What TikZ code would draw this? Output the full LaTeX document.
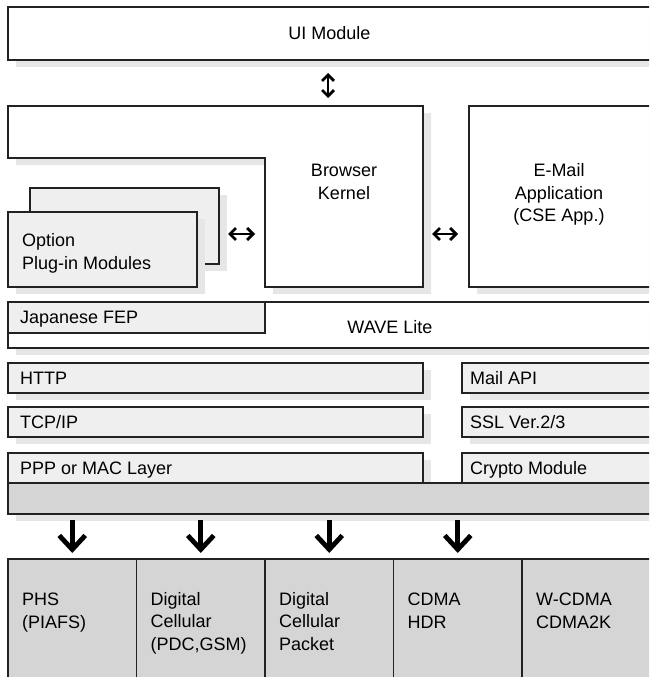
\documentclass[tikz,border=0pt]{standalone}
\usepackage{fontspec}
\setmainfont{Liberation Sans}
\usetikzlibrary{arrows.meta,shadows}
\definecolor{edge}{HTML}{222222}
\definecolor{paper}{HTML}{EFEFEF}
\definecolor{buscol}{HTML}{D5D5D5}
\definecolor{shadecol}{HTML}{E6E6E6}

\begin{document}
\begin{tikzpicture}[x=1pt,y=-1pt,
  font=\fontsize{18}{22.5}\selectfont,
  shade/.style={general shadow={fill=shadecol, shadow xshift=8pt, shadow yshift=-7pt}},
  frame/.style={draw=edge, line width=1.2pt, line join=miter},
  panel/.style={frame, rectangle, inner sep=0pt, outer sep=0pt, anchor=north west},
  module/.style={panel, fill=white, shade},
  layer/.style={panel, fill=paper, shade},
  cell/.style={panel, fill=buscol, minimum width=128.5pt, minimum height=130pt},
  lbl/.style={inner sep=0pt, anchor=base west, align=left},
  clbl/.style={inner sep=0pt, anchor=base, align=center},
  link/.style={line width=2.7pt, {Straight Barb[length=6pt,width=12pt]}-{Straight Barb[length=6pt,width=12pt]}},
  feed/.style={line width=4.8pt, -{Straight Barb[length=14pt,width=26pt]}},
]
\useasboundingbox (0,0) rectangle (649,677);
\clip (0,0) rectangle (649,677);

% user interface
\node[module, minimum width=643pt, minimum height=53pt] (ui) at (8,7) {UI Module};

% browser kernel (stepped outline)
\draw[frame, fill=white, shade]
  (8,106) coordinate (kNW) -- (423,106) coordinate (kNE) -- (423,287) coordinate (kSE)
  -- (265,287) coordinate (kSW) -- (265,158) coordinate (kStep) -- (8,158) -- cycle;
\node[clbl] (kernel) at (344,199) {Browser\\Kernel};

% e-mail application
\node[module, minimum width=185pt, minimum height=181pt] (email) at (469,106) {};
\node[clbl] (emailtxt) at (559,221.5) {E-Mail\\Application\\(CSE App.)};

% plug-in modules (stacked)
\node[layer, minimum width=189pt, minimum height=76pt] (optback) at (30,188) {};
\node[layer, minimum width=189pt, minimum height=75pt] (optfront) at (8,212) {};
\node[lbl] (opttxt) at (22,269) {Option\\Plug-in Modules};

% WAVE Lite with Japanese FEP
\node[module, minimum width=644pt, minimum height=46pt] (wave) at (8,302) {};
\node[clbl] (wavetxt) at (390,333) {WAVE Lite};
\node[panel, fill=paper, minimum width=257pt, minimum height=31pt] (fep) at (8,302) {};
\node[lbl] (feptxt) at (20,323) {Japanese FEP};

% protocol stack, left column
\node[layer, minimum width=415pt, minimum height=30pt] (http) at (8,363) {};
\node[layer, minimum width=415pt, minimum height=30pt] (tcp) at (8,407) {};
\node[layer, minimum width=415pt, minimum height=30pt] (ppp) at (8,453) {};
\node[lbl] (httptxt) at (20,384.5) {HTTP};
\node[lbl] (tcptxt) at (20,428.5) {TCP/IP};
\node[lbl] (ppptxt) at (20,474.5) {PPP or MAC Layer};

% mail stack, right column
\node[layer, minimum width=190pt, minimum height=30pt] (mapi) at (462,363) {};
\node[layer, minimum width=190pt, minimum height=30pt] (ssl) at (462,407) {};
\node[layer, minimum width=190pt, minimum height=30pt] (crypto) at (462,453) {};
\node[lbl] (mapitxt) at (470,384.5) {Mail API};
\node[lbl] (ssltxt) at (470,428.5) {SSL Ver.2/3};
\node[lbl] (cryptotxt) at (470,474.5) {Crypto Module};

% common bus
\node[panel, fill=buscol, shade, minimum width=644pt, minimum height=31pt] (bus) at (8,483) {};

% bearer networks
\node[cell] (phs) at (8,559) {};
\node[cell] (pdc) at (136.5,559) {};
\node[cell] (pkt) at (265,559) {};
\node[cell] (hdr) at (393.5,559) {};
\node[cell] (wcdma) at (522,559) {};
\node[lbl] (phstxt) at (22,628) {PHS\\(PIAFS)};
\node[lbl] (pdctxt) at (150.5,650) {Digital\\Cellular\\(PDC,GSM)};
\node[lbl] (pkttxt) at (279,650) {Digital\\Cellular\\Packet};
\node[lbl] (hdrtxt) at (407.5,628) {CDMA\\HDR};
\node[lbl] (wcdmatxt) at (536,628) {W-CDMA\\CDMA2K};

% connectors
\coordinate (vx) at (328,0);
\coordinate (ly) at (0,234);
\draw[link, shorten <=13pt, shorten >=8pt] (ui.south -| vx) -- (kNW -| vx);
\draw[link, shorten <=9pt, shorten >=10pt] (optback.east |- ly) -- (kStep |- ly);
\draw[link, shorten <=9pt, shorten >=11pt] (kNE |- ly) -- (email.west |- ly);
\foreach \c in {phs,pdc,pkt,hdr}
  \draw[feed, shorten <=6pt, shorten >=6pt] (bus.south -| \c.north) -- (\c.north);
\end{tikzpicture}
\end{document}
